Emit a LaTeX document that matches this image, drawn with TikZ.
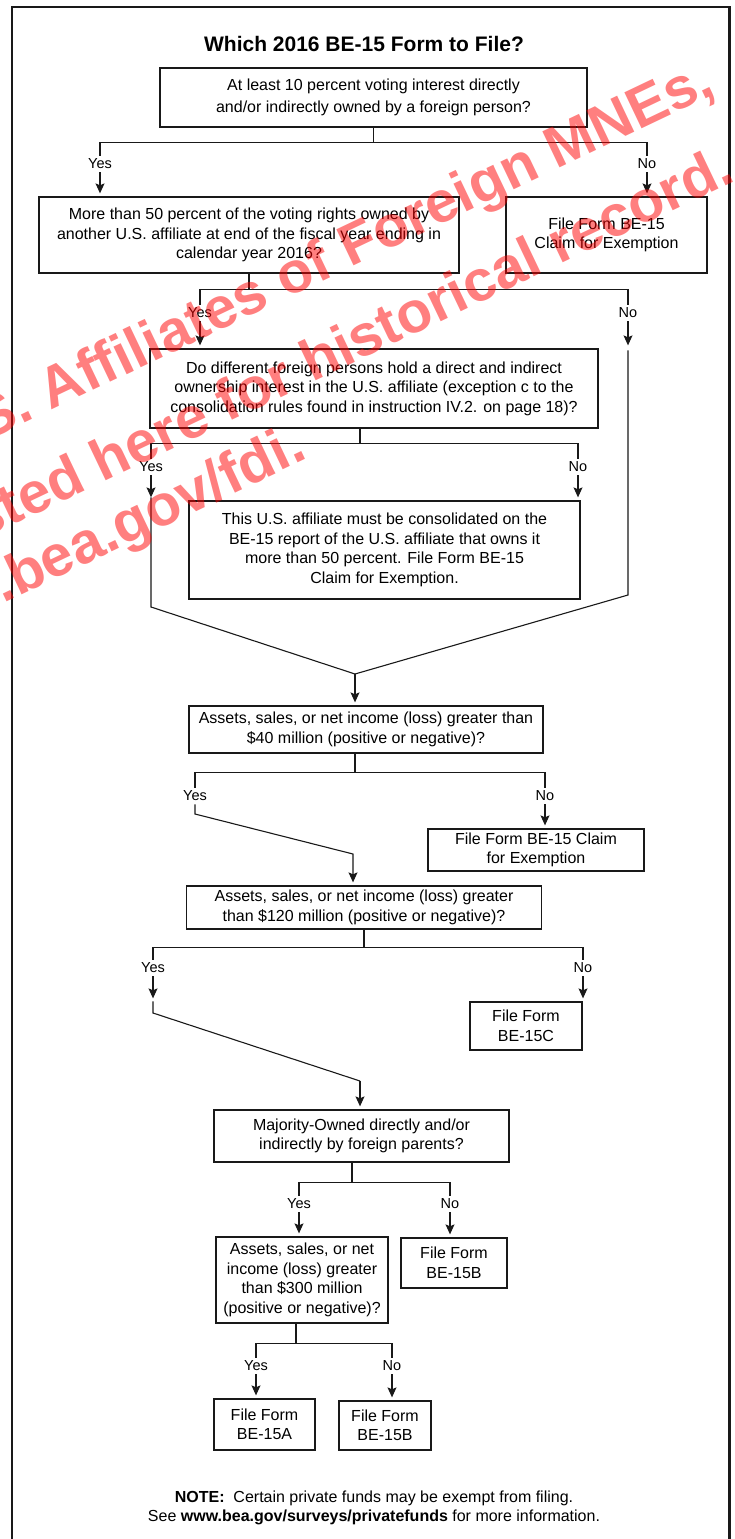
\documentclass[tikz,border=0pt]{standalone}
\usepackage{fontspec}
\setmainfont{Liberation Sans}
\usepackage{tikz}
\usetikzlibrary{arrows.meta}
\tikzset{
	box/.style={draw=black!90, line width=1.3pt, inner sep=0pt, align=center, font=\fontsize{16}{19.5}\selectfont},
	answer/.style={inner sep=3pt, font=\fontsize{14.5}{17}\selectfont},
	flow/.style={draw=black!90, line width=1.1pt},
	arr/.style={flow, -{Stealth[length=10pt, width=9pt, inset=2pt]}, shorten >=3pt},
	heading/.style={font=\fontsize{21}{25}\selectfont\bfseries},
	frame/.style={draw=black!90, line width=2.6pt},
	wmark/.style={inner sep=0pt, anchor=base east, rotate=25.5, text=red, text opacity=0.5, font=\fontsize{58}{64}\selectfont\bfseries}
}

\begin{document}
\begin{tikzpicture}[x=1pt, y=-1pt]
			\path[use as bounding box, fill=white] (0,0) rectangle (735,1539);
			\draw[frame] (12,1545) -- (12,7) -- (729.5,7) -- (729.5,1545);
			
			\node[heading] (title) at (364,44) {Which 2016 BE-15 Form to File?};
			
			\node[box, minimum width=427, minimum height=59, font=\fontsize{16}{22}\selectfont] (q10) at (373.5,97.5)
				{At least 10 percent voting interest directly\\and/or indirectly owned by a foreign person?};
			\node[box, minimum width=420, minimum height=76] (q50) at (249,235)
				{More than 50 percent of the voting rights owned by\\another U.S. affiliate at end of the fiscal year ending in\\calendar year 2016?};
			\node[box, minimum width=201, minimum height=76] (ex-a) at (606.5,235) {File Form BE-15\\Claim for Exemption};
			\node[box, minimum width=448, minimum height=79] (qdiff) at (374,388.5)
				{Do different foreign persons hold a direct and indirect\\ownership interest in the U.S. affiliate (exception c to the\\consolidation rules found in instruction IV.2. on page 18)?};
			\node[box, minimum width=391, minimum height=98] (cons) at (384.5,550)
				{This U.S. affiliate must be consolidated on the\\BE-15 report of the U.S. affiliate that owns it\\more than 50 percent. File Form BE-15\\Claim for Exemption.};
			\node[box, minimum width=354, minimum height=47] (q40) at (366,729.5)
				{Assets, sales, or net income (loss) greater than\\\$40 million (positive or negative)?};
			\node[box, minimum width=216, minimum height=42] (ex-b) at (536,850) {File Form BE-15 Claim\\for Exemption};
			\node[box, minimum width=355, minimum height=43] (q120) at (364,907.5)
				{Assets, sales, or net income (loss) greater\\than \$120 million (positive or negative)?};
			\node[box, minimum width=112, minimum height=48] (form-c) at (526,1026) {File Form\\BE-15C};
			\node[box, minimum width=295, minimum height=52] (qmo) at (361.5,1136)
				{Majority-Owned directly and/or\\indirectly by foreign parents?};
			\node[box, minimum width=172, minimum height=86] (q300) at (302,1280)
				{Assets, sales, or net\\income (loss) greater\\than \$300 million\\(positive or negative)?};
			\node[box, minimum width=106, minimum height=50] (form-b1) at (454,1263) {File Form\\BE-15B};
			\node[box, minimum width=101, minimum height=51] (form-a) at (264.5,1424.5) {File Form\\BE-15A};
			\node[box, minimum width=92, minimum height=49] (form-b2) at (385,1425.5) {File Form\\BE-15B};
			
			\node[align=center, font=\fontsize{16}{19}\selectfont] (note) at (374,1507.5)
				{\textbf{NOTE:}\ \ Certain private funds may be exempt from filing.\\See \textbf{www.bea.gov/surveys/privatefunds} for more information.};
			
			% answers
			\node[answer] (q10-yes) at (100,164) {Yes};
			\node[answer] (q10-no) at (647,164) {No};
			\node[answer] (q50-yes) at (200,313) {Yes};
			\node[answer] (q50-no) at (628,313) {No};
			\node[answer] (qdiff-yes) at (151,467) {Yes};
			\node[answer] (qdiff-no) at (578,467) {No};
			\node[answer] (q40-yes) at (195,796) {Yes};
			\node[answer] (q40-no) at (545,796) {No};
			\node[answer] (q120-yes) at (153,968) {Yes};
			\node[answer] (q120-no) at (583,968) {No};
			\node[answer] (qmo-yes) at (299,1204) {Yes};
			\node[answer] (qmo-no) at (450,1204) {No};
			\node[answer] (q300-yes) at (256,1366) {Yes};
			\node[answer] (q300-no) at (392,1366) {No};
			
			\coordinate (left-bend) at (151,607);
			\coordinate (right-bend) at (628,595);
			\coordinate (merge) at (355,674);
			\coordinate (q40-bend) at (195,814);
			\coordinate (q40-join) at (353,854);
			\coordinate (q120-bend) at (153,1013);
			\coordinate (q120-join) at (360,1081);
			
			\draw[flow] (q10.south) -- ++(0,15) coordinate (q10-split) -| (q10-yes.north); \draw[flow] (q10-split) -| (q10-no.north);
			\draw[arr] (q10-yes.south) -- (q10-yes.south |- q50.north);
			\draw[arr] (q10-no.south) -- (q10-no.south |- ex-a.north);
			
			\draw[flow] (q50.south) -- ++(0,16) coordinate (q50-split) -| (q50-yes.north); \draw[flow] (q50-split) -| (q50-no.north);
			\draw[arr] (q50-yes.south) -- (q50-yes.south |- qdiff.north);
			\draw[arr] (q50-no.south) -- (q50-no.south |- qdiff.north);
			\draw[flow] (q50-no.south |- qdiff.north) ++(0,2) -- (right-bend) -- (merge);
			
			\draw[flow] ([xshift=-14]qdiff.south) -- ++(0,15) coordinate (qdiff-split) -| (qdiff-yes.north); \draw[flow] (qdiff-split) -| (qdiff-no.north);
			\draw[arr] (qdiff-no.south) -- (qdiff-no.south |- cons.north);
			\draw[arr] (qdiff-yes.south) -- (qdiff-yes.south |- cons.north);
			\draw[flow] (qdiff-yes.south |- cons.north) ++(0,-3) -- (left-bend) -- (merge);
			\draw[arr] (merge) -- (merge |- q40.north);
			
			\draw[flow] (merge |- q40.south) -- ++(0,19) coordinate (q40-split) -| (q40-yes.north); \draw[flow] (q40-split) -| (q40-no.north);
			\draw[arr] (q40-no.south) -- (q40-no.south |- ex-b.north);
			\draw[arr] (q40-yes.south) -- (q40-bend) -- (q40-join) -- (q40-join |- q120.north);
			
			\draw[flow] (q120.south) -- ++(0,18) coordinate (q120-split) -| (q120-yes.north); \draw[flow] (q120-split) -| (q120-no.north);
			\draw[arr] (q120-no.south) -- (q120-no.south |- form-c.north);
			\draw[arr] (q120-yes.south) -- (q120-yes.south |- form-c.north);
			\draw[flow] (q120-yes.south |- form-c.north) -- (q120-bend) -- (q120-join);
			\draw[arr] (q120-join) -- (q120-join |- qmo.north);
			
			\draw[flow] ([xshift=-9.5]qmo.south) -- ++(0,20) coordinate (qmo-split) -| (qmo-yes.north); \draw[flow] (qmo-split) -| (qmo-no.north);
			\draw[arr] (qmo-yes.south) -- (qmo-yes.south |- q300.north);
			\draw[arr] (qmo-no.south) -- (qmo-no.south |- form-b1.north);
			
			\draw[flow] ([xshift=-6]q300.south) -- ++(0,20) coordinate (q300-split) -| (q300-yes.north); \draw[flow] (q300-split) -| (q300-no.north);
			\draw[arr] (q300-yes.south) -- (q300-yes.south |- form-a.north);
			\draw[arr] (q300-no.south) -- (q300-no.south |- form-b2.north);
			
			% archive stamp
			\node[wmark] (stamp-1) at (717,93) {U.S. Affiliates of Foreign MNEs,};
			\node[wmark] (stamp-2) at (737,180) {posted here for historical record.};
			\node[wmark] (stamp-3) at (309,458) {www.bea.gov/fdi.};
		\end{tikzpicture}
\end{document}
